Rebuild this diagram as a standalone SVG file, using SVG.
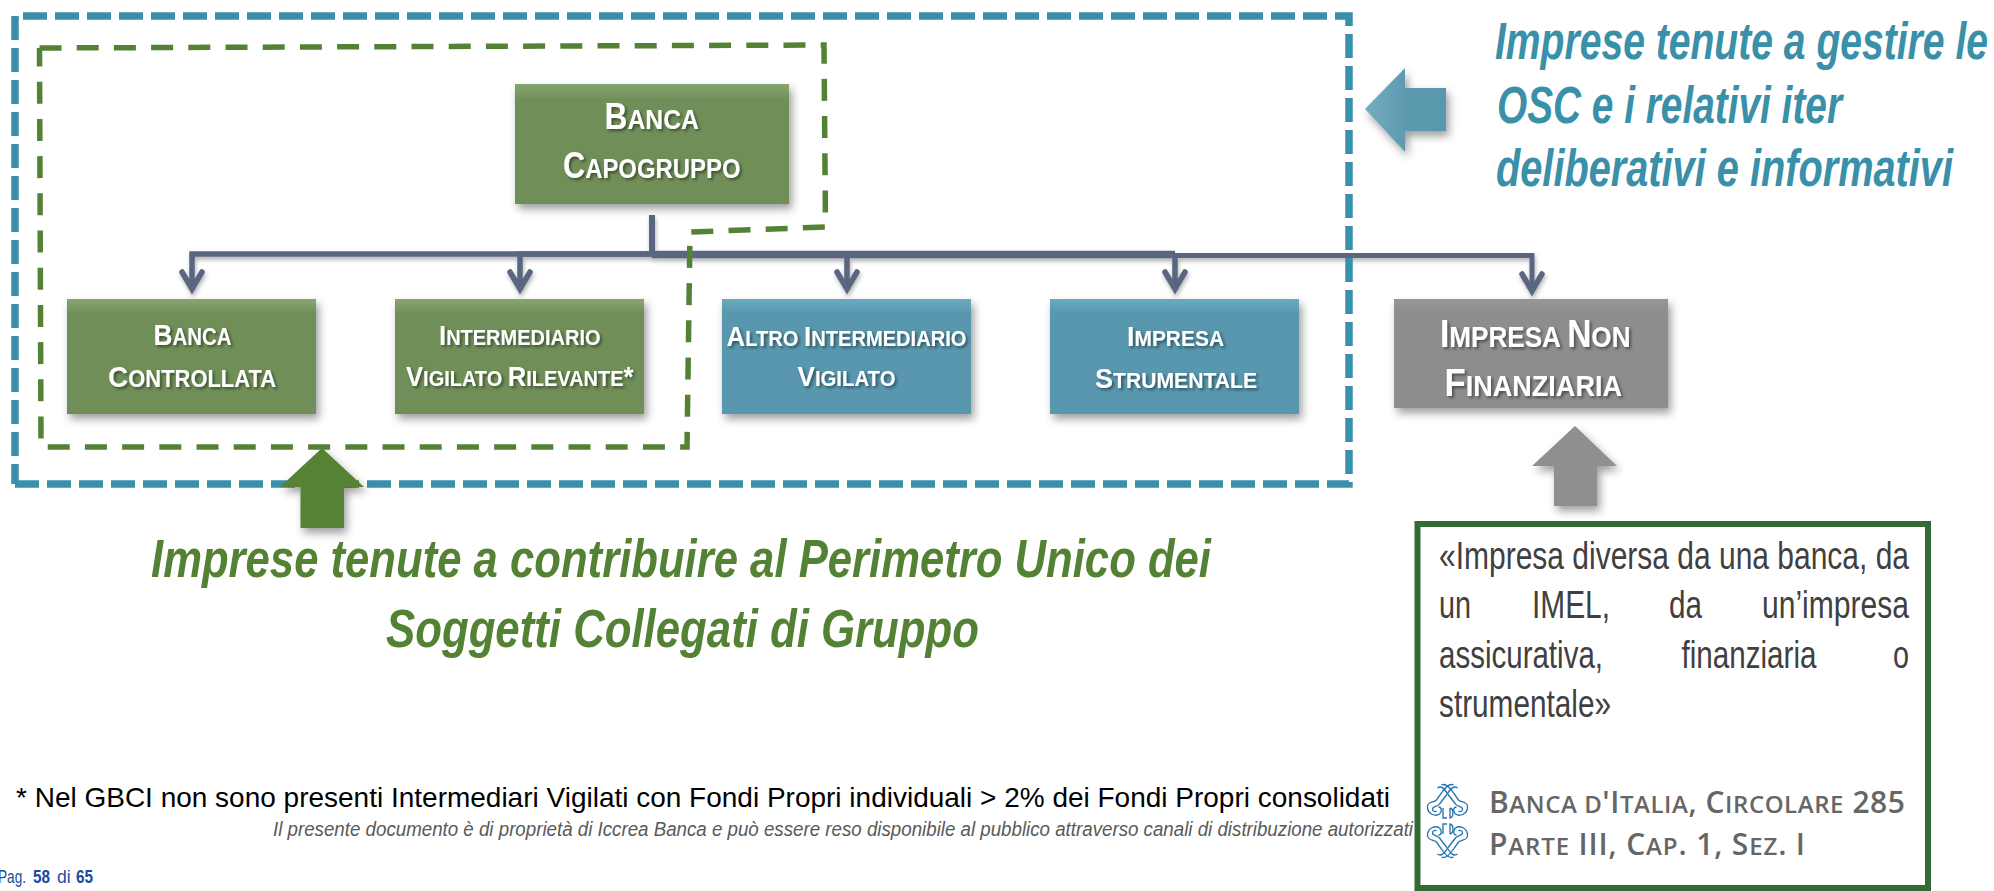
<svg xmlns="http://www.w3.org/2000/svg" xmlns:xlink="http://www.w3.org/1999/xlink" width="1994" height="891" viewBox="0 0 1994 891">
<style>
text{font-family:"Liberation Sans",Arial,sans-serif}
.nt{font-weight:700;fill:#fff;filter:url(#ts);text-anchor:start}
.f28{font-size:28px}.f30{font-size:30px}.f36{font-size:36px}.f38{font-size:38px}
.s{font-size:.78em}
.lead{stroke:#5a6580;fill:none;stroke-linejoin:miter;stroke-linecap:butt}
.h1{font-weight:700;font-style:italic;fill:#3a8fa9;font-size:51px}
.h2{font-weight:700;font-style:italic;fill:#548235;font-size:54px}
.q{font-size:38px;fill:#404040}
.src{font-family:"Open Sans","Noto Sans",sans-serif;font-weight:600;font-size:30px;fill:#666}
.src .s{font-size:.8em}
.logo{fill:none;stroke:#2272ad;stroke-width:1.3}
</style>
<defs>
<linearGradient id="gG" x1="0" y1="0" x2="0" y2="1"><stop offset="0" stop-color="#88a56f"/><stop offset=".13" stop-color="#708f58"/><stop offset="1" stop-color="#6f8f58"/></linearGradient>
<linearGradient id="gB" x1="0" y1="0" x2="0" y2="1"><stop offset="0" stop-color="#6aaabf"/><stop offset=".13" stop-color="#5997ad"/><stop offset="1" stop-color="#5997ad"/></linearGradient>
<linearGradient id="gN" x1="0" y1="0" x2="0" y2="1"><stop offset="0" stop-color="#979797"/><stop offset=".13" stop-color="#8d8d8d"/><stop offset="1" stop-color="#8d8d8d"/></linearGradient>
<linearGradient id="gA" x1="0" y1="0" x2="1" y2="0"><stop offset="0" stop-color="#76adc0"/><stop offset=".5" stop-color="#5c9ab0"/><stop offset="1" stop-color="#5997ad"/></linearGradient>
<filter id="ds" x="-15%" y="-15%" width="130%" height="135%"><feDropShadow dx="3" dy="5" stdDeviation="4" flood-color="#000" flood-opacity=".38"/></filter>
<filter id="ts" x="-10%" y="-30%" width="120%" height="160%"><feDropShadow dx="2" dy="2" stdDeviation="1.6" flood-color="#000" flood-opacity=".45"/></filter>
<filter id="cs" filterUnits="userSpaceOnUse" x="150" y="200" width="1420" height="110"><feDropShadow dx="1" dy="3" stdDeviation="2" flood-color="#000" flood-opacity=".3"/></filter>
<marker id="oa" markerUnits="userSpaceOnUse" markerWidth="40" markerHeight="40" refX="0" refY="0" viewBox="-30 -20 40 40" orient="auto" overflow="visible"><path d="M-17,-10 L0,0 L-17,10" fill="none" stroke="#5a6580" stroke-width="5.5" stroke-linejoin="miter" stroke-linecap="round"/></marker>
<path id="curl" d="M-6,-36 C-2,-38 2,-34 6,-28 L11,-21 C14,-18 20,-20 20,-14 C20,-7 12,-4 8,-7 C5,-10 6,-14 9,-14 M-10,-33 C-6,-36 -3,-32 1,-26 L8,-17 C10,-14 15,-15 15,-12 C15,-9 12,-9 11,-10"/>
</defs>

<g id="connectors" filter="url(#cs)">
<path class="lead" stroke-width="5.5" d="M652,254 H192 V289" marker-end="url(#oa)"/>
<path class="lead" stroke-width="5.5" d="M652,254 H520 V289" marker-end="url(#oa)"/>
<path class="lead" stroke-width="5.5" d="M652,255 H847 V289" marker-end="url(#oa)"/>
<path class="lead" stroke-width="7.5" d="M652,254.5 H1175"/>
<path class="lead" stroke-width="5.5" d="M1175,254.5 V289" marker-end="url(#oa)"/>
<path class="lead" stroke-width="5" d="M1170,255.5 H1532 V291" marker-end="url(#oa)"/>
<path class="lead" stroke-width="6" stroke-linecap="round" d="M652,215 V256"/>
</g>

<g id="perimeter-blue"><path d="M15,484 H1349 V16 H15 V484" fill="none" stroke="#3a90aa" stroke-width="7.5" stroke-dasharray="24 8"/></g>
<g id="perimeter-green"><path d="M39.5,48 L824,45 L825.5,227 L690,232 L687,447 L41,447 L39.5,48" fill="none" stroke="#548235" stroke-width="5.5" stroke-dasharray="22 15.2"/></g>

<g id="node-capogruppo">
<rect x="515" y="84" width="274" height="120" fill="url(#gG)" filter="url(#ds)"/>
<text class="nt f36" x="604.5" y="129" textLength="94.5" lengthAdjust="spacingAndGlyphs">B<tspan class="s">ANCA</tspan></text>
<text class="nt f36" x="563" y="178" textLength="177.5" lengthAdjust="spacingAndGlyphs">C<tspan class="s">APOGRUPPO</tspan></text>
</g>
<g id="node-controllata">
<rect x="67" y="299" width="249" height="115" fill="url(#gG)" filter="url(#ds)"/>
<text class="nt f30" x="153.5" y="345" textLength="78" lengthAdjust="spacingAndGlyphs">B<tspan class="s">ANCA</tspan></text>
<text class="nt f30" x="108" y="387" textLength="168" lengthAdjust="spacingAndGlyphs">C<tspan class="s">ONTROLLATA</tspan></text>
</g>
<g id="node-intermediario">
<rect x="395" y="299" width="249" height="115" fill="url(#gG)" filter="url(#ds)"/>
<text class="nt f28" x="439" y="345" textLength="161.5" lengthAdjust="spacingAndGlyphs">I<tspan class="s">NTERMEDIARIO</tspan></text>
<text class="nt f28" x="406" y="386" textLength="227.5" lengthAdjust="spacingAndGlyphs">V<tspan class="s">IGILATO </tspan>R<tspan class="s">ILEVANTE</tspan>*</text>
</g>
<g id="node-altro">
<rect x="722" y="299" width="249" height="115" fill="url(#gB)" filter="url(#ds)"/>
<text class="nt f28" x="726.5" y="346" textLength="240" lengthAdjust="spacingAndGlyphs">A<tspan class="s">LTRO </tspan>I<tspan class="s">NTERMEDIARIO</tspan></text>
<text class="nt f28" x="797.5" y="386" textLength="98" lengthAdjust="spacingAndGlyphs">V<tspan class="s">IGILATO</tspan></text>
</g>
<g id="node-strumentale">
<rect x="1050" y="299" width="249" height="115" fill="url(#gB)" filter="url(#ds)"/>
<text class="nt f28" x="1127" y="346" textLength="97" lengthAdjust="spacingAndGlyphs">I<tspan class="s">MPRESA</tspan></text>
<text class="nt f28" x="1095" y="388" textLength="162" lengthAdjust="spacingAndGlyphs">S<tspan class="s">TRUMENTALE</tspan></text>
</g>
<g id="node-non-finanziaria">
<rect x="1394" y="299" width="274" height="109" fill="url(#gN)" filter="url(#ds)"/>
<text class="nt f38" x="1440" y="347" textLength="190.5" lengthAdjust="spacingAndGlyphs">I<tspan class="s">MPRESA </tspan>N<tspan class="s">ON</tspan></text>
<text class="nt f38" x="1444.5" y="396" textLength="177.5" lengthAdjust="spacingAndGlyphs">F<tspan class="s">INANZIARIA</tspan></text>
</g>

<g id="arrow-blue"><polygon points="1365,109 1405,68 1405,88 1446,88 1446,131 1405,131 1405,152" fill="url(#gA)" filter="url(#ds)"/></g>
<g id="arrow-green"><polygon points="322,448 364,487 344,487 344,528 300.5,528 300.5,487 280,487" fill="#548235" filter="url(#ds)"/></g>
<g id="arrow-grey"><polygon points="1575,426 1617,466 1597,466 1597,506 1554,506 1554,466 1532,466" fill="#8f8f8f" filter="url(#ds)"/></g>

<g id="title-osc">
<text class="h1" x="1495" y="59" textLength="493" lengthAdjust="spacingAndGlyphs">Imprese tenute a gestire le</text>
<text class="h1" x="1497" y="123" textLength="345" lengthAdjust="spacingAndGlyphs">OSC e i relativi iter</text>
<text class="h1" x="1496" y="186" textLength="457" lengthAdjust="spacingAndGlyphs">deliberativi e informativi</text>
</g>
<g id="title-perimetro">
<text class="h2" x="151" y="577" textLength="1060" lengthAdjust="spacingAndGlyphs">Imprese tenute a contribuire al Perimetro Unico dei</text>
<text class="h2" x="386" y="647" textLength="593" lengthAdjust="spacingAndGlyphs">Soggetti Collegati di Gruppo</text>
</g>

<g id="footnotes">
<text x="16" y="807" font-size="27.5" fill="#000" textLength="1374" lengthAdjust="spacingAndGlyphs">* Nel GBCI non sono presenti Intermediari Vigilati con Fondi Propri individuali &gt; 2% dei Fondi Propri consolidati</text>
<text x="273" y="836" font-size="20" font-style="italic" fill="#595959" textLength="1140" lengthAdjust="spacingAndGlyphs">Il presente documento è di proprietà di Iccrea Banca e può essere reso disponibile al pubblico attraverso canali di distribuzione autorizzati</text>
<text y="883" font-size="17.5" fill="#1c4ba0"><tspan x="-2" textLength="28" lengthAdjust="spacingAndGlyphs">Pag.</tspan> <tspan x="33" font-weight="700" textLength="17" lengthAdjust="spacingAndGlyphs">58</tspan> <tspan x="57">di</tspan> <tspan x="76" font-weight="700" textLength="17" lengthAdjust="spacingAndGlyphs">65</tspan></text>
</g>

<g id="definition">
<rect x="1417.5" y="524" width="510.5" height="364" fill="#fff" stroke="#336b37" stroke-width="6"/>
<text class="q" x="1439" y="569" textLength="470" lengthAdjust="spacingAndGlyphs">«Impresa diversa da una banca, da</text>
<text class="q" y="618"><tspan x="1439" textLength="32" lengthAdjust="spacingAndGlyphs">un</tspan> <tspan x="1532" textLength="78" lengthAdjust="spacingAndGlyphs">IMEL,</tspan> <tspan x="1669" textLength="33" lengthAdjust="spacingAndGlyphs">da</tspan> <tspan x="1762" textLength="147" lengthAdjust="spacingAndGlyphs">un’impresa</tspan></text>
<text class="q" y="668"><tspan x="1439" textLength="164" lengthAdjust="spacingAndGlyphs">assicurativa,</tspan> <tspan x="1681.5" textLength="135" lengthAdjust="spacingAndGlyphs">finanziaria</tspan> <tspan x="1893" textLength="16" lengthAdjust="spacingAndGlyphs">o</tspan></text>
<text class="q" x="1439" y="717" textLength="172" lengthAdjust="spacingAndGlyphs">strumentale»</text>
<g class="logo">
<use xlink:href="#curl" href="#curl" transform="translate(1447.5,821)"/>
<use xlink:href="#curl" href="#curl" transform="translate(1447.5,821) scale(-1,1)"/>
<use xlink:href="#curl" href="#curl" transform="translate(1447.5,821) scale(1,-1)"/>
<use xlink:href="#curl" href="#curl" transform="translate(1447.5,821) scale(-1,-1)"/>
<path d="M1443,808 V818 H1447 M1450,808 V818 C1454,817 1454,809 1450,808 M1443,834 V824 H1447 M1450,834 V824 C1454,825 1454,833 1450,834"/>
</g>
<text class="src" x="1489" y="813" textLength="416" lengthAdjust="spacing">B<tspan class="s">ANCA D</tspan>'I<tspan class="s">TALIA</tspan>, C<tspan class="s">IRCOLARE</tspan> 285</text>
<text class="src" x="1489" y="855" textLength="316" lengthAdjust="spacing">P<tspan class="s">ARTE</tspan> III, C<tspan class="s">AP</tspan>. 1, S<tspan class="s">EZ</tspan>. I</text>
</g>
</svg>
